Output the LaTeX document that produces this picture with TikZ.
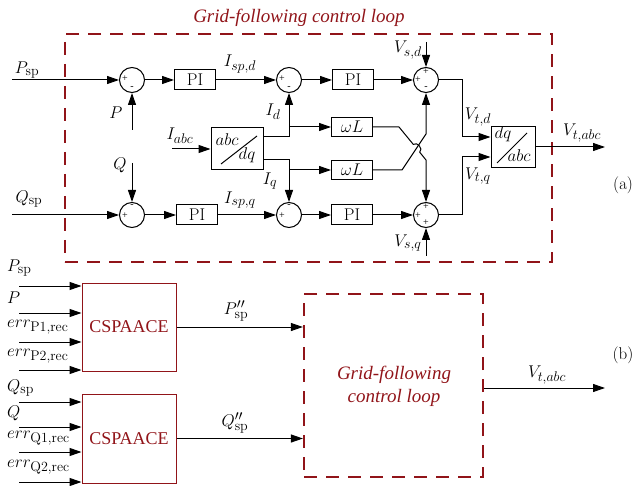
\RequirePackage{fix-cm}
\documentclass[tikz,border=0pt]{standalone}
\usepackage[no-math]{fontspec}
\setmainfont{Liberation Serif}
\usetikzlibrary{arrows.meta}
\DeclareMathSizes{17}{17}{14}{11}
\definecolor{gfred}{RGB}{145,20,25}
\begin{document}
\begin{tikzpicture}[x=1pt,y=-1pt,
  font=\fontsize{17}{20}\selectfont,
  sumnode/.style={circle,draw,minimum size=25pt,inner sep=0pt,line width=1pt},
  blk/.style={draw,rectangle,line width=1pt,inner sep=0pt},
  pibox/.style={blk,minimum width=41pt,minimum height=20pt},
  wlbox/.style={blk,minimum width=41pt,minimum height=19pt},
  arr/.style={-{Triangle[length=12pt,width=8pt]},line width=1pt},
  wire/.style={line width=1pt},
  dashbox/.style={draw=gfred,line width=2.2pt,dash pattern=on 13pt off 9pt,rectangle,inner sep=0pt},
  sgn/.style={font=\fontsize{10}{10}\selectfont,inner sep=0pt},
  csbox/.style={draw=gfred,line width=1pt,minimum width=94pt,minimum height=88pt,text=gfred,font=\fontsize{18}{20}\selectfont},
  lbl/.style={inner sep=0pt},
  redtxt/.style={text=gfred,font=\itshape\fontsize{19}{23}\selectfont,align=center}
]
\useasboundingbox (0,0) rectangle (634,486);

% ---------- (a) ----------
\node[redtxt] (title) at (299,18) {Grid-following control loop};
\node[dashbox,minimum width=487pt,minimum height=228pt] (gfl) at (308.5,148) {};

\node[sumnode] (s1) at (132,80) {};
\node[pibox] (pi1) at (195,80) {$\mathrm{PI}$};
\node[sumnode] (s2) at (289,80) {};
\node[pibox] (pi2) at (353,80) {$\mathrm{PI}$};
\node[sumnode] (s5) at (426,80) {};

\node[sumnode] (s3) at (132,215) {};
\node[pibox] (pi3) at (197,215) {$\mathrm{PI}$};
\node[sumnode] (s4) at (289,215) {};
\node[pibox] (pi4) at (352,215) {$\mathrm{PI}$};
\node[sumnode] (s6) at (426,215) {};

\node[blk,minimum width=52pt,minimum height=42pt] (abcdq) at (237,149) {};
\node[lbl] (abct) at (227,140) {$abc$};
\node[lbl] (dqt) at (247,155) {$dq$};
\draw[wire] (221,164) -- (257,136);

\node[wlbox] (wl1) at (352,127) {$\omega L$};
\node[wlbox] (wl2) at (352,170) {$\omega L$};

\node[blk,minimum width=44pt,minimum height=41pt] (dqabc) at (513,147) {};
\node[lbl] (dqt2) at (503,134) {$dq$};
\node[lbl] (abct2) at (519,156) {$abc$};
\draw[wire] (497,163) -- (527,133);

% signs
\node[sgn] (g1a) at (125,79) {+};
\node[sgn] (g1b) at (132,88) {-};
\node[sgn] (g2a) at (282,79) {+};
\node[sgn] (g2b) at (289,88) {-};
\node[sgn] (g3a) at (125,216) {+};
\node[sgn] (g3b) at (132,206) {-};
\node[sgn] (g4a) at (282,216) {+};
\node[sgn] (g4b) at (289,206) {-};
\node[sgn] (g5a) at (426,72) {+};
\node[sgn] (g5b) at (418,80) {+};
\node[sgn] (g5c) at (426,88) {-};
\node[sgn] (g6a) at (426,207) {+};
\node[sgn] (g6b) at (418,216) {+};
\node[sgn] (g6c) at (426,223) {+};

% inputs
\coordinate (psp) at (12,80);
\coordinate (qsp) at (12,215);
\coordinate (pin) at (132,130);
\coordinate (qin) at (132,163);
\coordinate (iabc) at (172,149);
\coordinate (vsd) at (426,42);
\coordinate (vsq) at (426,256);
\coordinate (vout) at (605,147);
\coordinate (jd) at (289,127);
\coordinate (jq) at (289,170);

\draw[arr] (psp) -- (s1.west);
\draw[arr] (s1) -- (pi1);
\draw[arr] (pi1) -- (s2);
\draw[arr] (s2) -- (pi2);
\draw[arr] (pi2) -- (s5);
\draw[arr] (pin) -- (s1.south);

\draw[arr] (qsp) -- (s3.west);
\draw[arr] (s3) -- (pi3);
\draw[arr] (pi3) -- (s4);
\draw[arr] (s4) -- (pi4);
\draw[arr] (pi4) -- (s6);
\draw[arr] (qin) -- (s3.north);

\draw[arr] (iabc) -- (abcdq.west);
\draw[arr] ([yshift=12pt]abcdq.east) -| (s2.south);
\draw[arr] (jd) -- (wl1.west);
\draw[arr] ([yshift=-11pt]abcdq.east) -| (s4.north);
\draw[arr] (jq) -- (wl2.west);

\draw[arr] (wl1.east) -- (399,127) -- (413.3,144.4)
  .. controls (417.2,141.2) and (423.6,149) .. (419.7,152.2)
  -- (426,160) -- (s6.north);
\draw[arr] (wl2.east) -- (402,170) -- (426,134) -- (s5.south);

\draw[arr] (vsd) -- (s5.north);
\draw[arr] (vsq) -- (s6.south);
\draw[arr] (s5.east) -- ++(23,0) |- ([yshift=10pt]dqabc.west);
\draw[arr] (s6.east) -- ++(23,0) |- ([yshift=-10pt]dqabc.west);
\draw[arr] (dqabc.east) -- (vout);

% labels (a)
\node[lbl] (lpsp) at (27,70) {$P_{\mathrm{sp}}$};
\node[lbl] (lqsp) at (29,199) {$Q_{\mathrm{sp}}$};
\node[lbl] (lp) at (116,113) {$P$};
\node[lbl] (lq) at (120,165) {$Q$};
\node[lbl] (lisd) at (240,64) {$I_{sp,d}$};
\node[lbl] (lisq) at (240,200) {$I_{sp,q}$};
\node[lbl] (lid) at (273,112) {$I_{d}$};
\node[lbl] (liq) at (270,181) {$I_{q}$};
\node[lbl] (liabc) at (180,136) {$I_{abc}$};
\node[lbl] (lvsd) at (408,50) {$V_{s,d}$};
\node[lbl] (lvsq) at (408,243) {$V_{s,q}$};
\node[lbl] (lvtd) at (478,117) {$V_{t,d}$};
\node[lbl] (lvtq) at (478,176) {$V_{t,q}$};
\node[lbl] (lvtabc) at (582,133) {$V_{t,abc}$};
\node[lbl] (la) at (623,185) {$(\mathrm{a})$};

% ---------- (b) ----------
\node[csbox] (cs1) at (129,327) {CSPAACE};
\node[csbox,minimum height=89pt] (cs2) at (129,438.5) {CSPAACE};
\node[dashbox,minimum width=179pt,minimum height=183pt] (gfl2) at (393.5,385.5) {};
\node[redtxt] (gfltxt) at (394,386) {Grid-following\\control loop};

\foreach \y [count=\i] in {286,313,342,370} {
  \coordinate (pin\i) at (19,\y);
  \draw[arr] (pin\i) -- (pin\i -| cs1.west);
}
\foreach \y [count=\i] in {402,427,452,482} {
  \coordinate (qin\i) at (19,\y);
  \draw[arr] (qin\i) -- (qin\i -| cs2.west);
}
\draw[arr] (cs1.east) -- (cs1.east -| gfl2.west);
\draw[arr] (cs2.east) -- (cs2.east -| gfl2.west);
\coordinate (vout2) at (605,388);
\draw[arr] (vout2 -| gfl2.east) -- (vout2);

\node[lbl,anchor=west] (lb1) at (7,268) {$P_{\mathrm{sp}}$};
\node[lbl,anchor=west] (lb2) at (7,298) {$P$};
\node[lbl,anchor=west] (lb3) at (7,327) {$err_{\mathrm{P1,rec}}$};
\node[lbl,anchor=west] (lb4) at (7,356) {$err_{\mathrm{P2,rec}}$};
\node[lbl,anchor=west] (lb5) at (7,388) {$Q_{\mathrm{sp}}$};
\node[lbl,anchor=west] (lb6) at (7,413) {$Q$};
\node[lbl,anchor=west] (lb7) at (7,438) {$err_{\mathrm{Q1,rec}}$};
\node[lbl,anchor=west] (lb8) at (7,467) {$err_{\mathrm{Q2,rec}}$};
\node[lbl] (lpp) at (236,311) {$P''_{\mathrm{sp}}$};
\node[lbl] (lqq) at (235,423) {$Q''_{\mathrm{sp}}$};
\node[lbl] (lvtabc2) at (547,375) {$V_{t,abc}$};
\node[lbl] (lb) at (623,355) {$(\mathrm{b})$};
\end{tikzpicture}
\end{document}
